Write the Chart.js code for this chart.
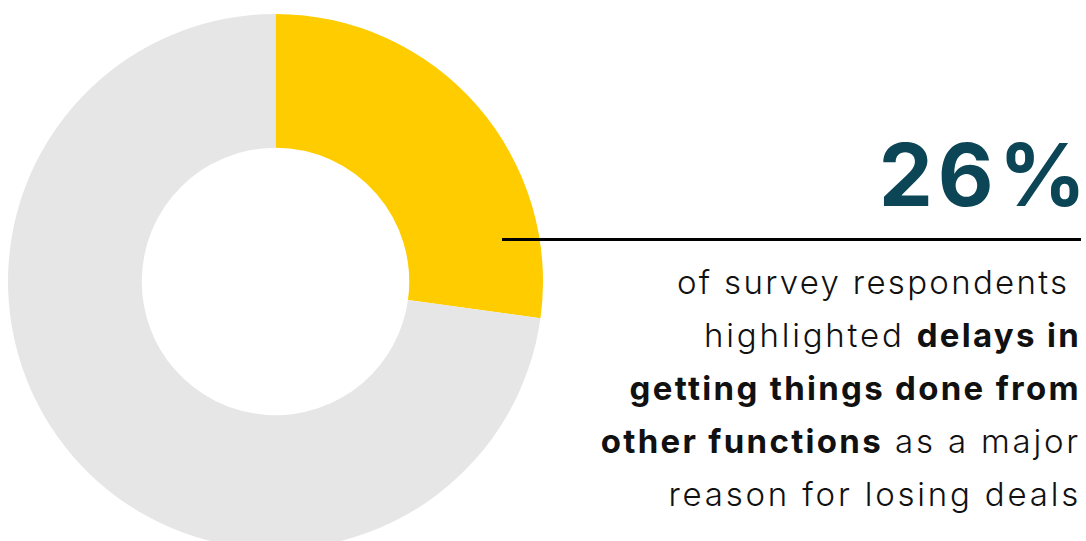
<!DOCTYPE html>
<html>
<head>
<meta charset="utf-8">
<script src="https://cdn.jsdelivr.net/npm/chart.js@4.4.0/dist/chart.umd.min.js"></script>
<style>
  html, body { margin: 0; padding: 0; width: 1086px; height: 541px; overflow: hidden; background: #ffffff; }
  #wrap { position: absolute; left: 7.5px; top: 13.5px; width: 535px; height: 535px; }
  #big { position: absolute; right: -5px; top: 120px; font-family: Inter, sans-serif; font-weight: 700; font-size: 86px; color: #0B4556; line-height: 110px; letter-spacing: 5px; }
  #rule { position: absolute; left: 502px; width: 579px; top: 238px; height: 2.5px; background: #000; }
  #desc { position: absolute; right: 5px; top: 256px; text-align: right; font-family: Inter, sans-serif; font-weight: 300; font-size: 33px; line-height: 53px; color: #111; letter-spacing: 2.8px; white-space: nowrap; }
  #desc b { font-weight: 700; letter-spacing: 2.3px; }
  #desc .l1 { letter-spacing: 2.3px; }
</style>
</head>
<body>
<div id="wrap"><canvas id="c"></canvas></div>
<div id="big"></div>
<div id="rule"></div>
<div id="desc"><span class="l1">of survey respondents&nbsp;</span><br>highlighted <b>delays in</b><br><b>getting things done from</b><br><b>other functions</b> as a major<br>reason for losing deals</div>
<script>
const categories = ['Delays in getting things done from other functions', 'Other reasons'];
const values = [27.2, 72.8];
const colors = ['#FFCC00', '#E6E6E6'];
const headline = '26%';

document.getElementById('big').textContent = headline;

new Chart(document.getElementById('c'), {
  type: 'doughnut',
  data: {
    labels: categories,
    datasets: [{ data: values, backgroundColor: colors, borderWidth: 0, hoverOffset: 0 }]
  },
  options: {
    responsive: true,
    maintainAspectRatio: false,
    animation: false,
    cutout: '50%',
    layout: { padding: 0 },
    plugins: { legend: { display: false }, tooltip: { enabled: false } }
  }
});
</script>
</body>
</html>
